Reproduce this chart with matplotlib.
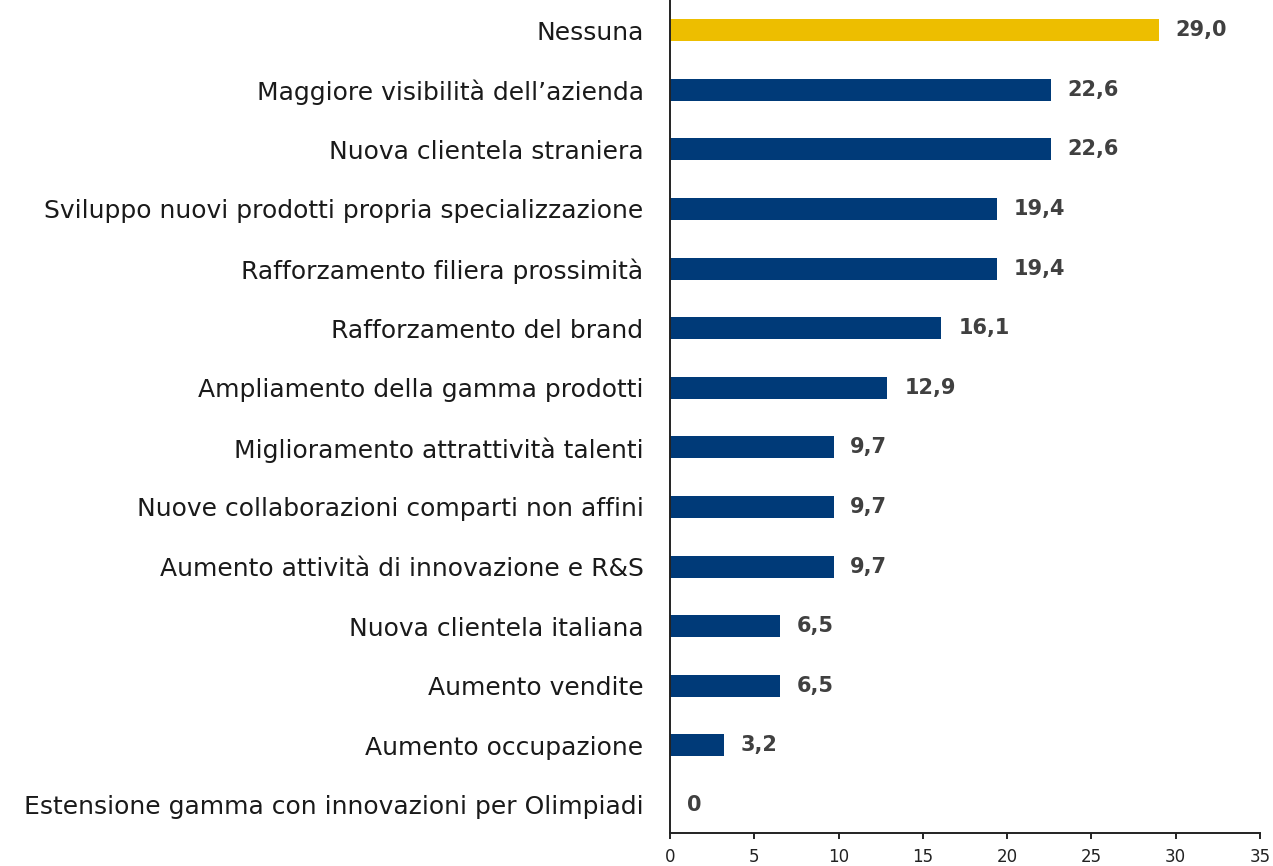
import matplotlib
matplotlib.use('Agg')
import matplotlib.pyplot as plt

# ─── Data (top to bottom) ────────────────────────────────────────────────
categories = [
    "Nessuna",
    "Maggiore visibilità dell’azienda",
    "Nuova clientela straniera",
    "Sviluppo nuovi prodotti propria specializzazione",
    "Rafforzamento filiera prossimità",
    "Rafforzamento del brand",
    "Ampliamento della gamma prodotti",
    "Miglioramento attrattività talenti",
    "Nuove collaborazioni comparti non affini",
    "Aumento attività di innovazione e R&S",
    "Nuova clientela italiana",
    "Aumento vendite",
    "Aumento occupazione",
    "Estensione gamma con innovazioni per Olimpiadi",
]
values = [29.0, 22.6, 22.6, 19.4, 19.4, 16.1, 12.9, 9.7, 9.7, 9.7, 6.5, 6.5, 3.2, 0]
value_labels = ["29,0", "22,6", "22,6", "19,4", "19,4", "16,1", "12,9",
                "9,7", "9,7", "9,7", "6,5", "6,5", "3,2", "0"]
x_ticks = [0, 5, 10, 15, 20, 25, 30, 35]

NAVY = "#003a78"
GOLD = "#edbe00"
LABEL_GREY = "#404040"

plt.rcParams['font.family'] = ['DejaVu Sans']

fig = plt.figure(figsize=(12.73, 8.66), dpi=100)
# axes top runs past the figure edge: the chart is cropped from a taller one
ax = fig.add_axes([0.5263, 0.0381, 0.4635, 0.9684])

colors = [GOLD] + [NAVY] * (len(values) - 1)
pos = list(range(len(categories)))
ax.barh(pos, values, height=0.37, color=colors, zorder=2)

for p, v, lab in zip(pos, values, value_labels):
    ax.text(v + 1.0, p, lab, va='center', ha='left', fontsize=15,
            fontweight='bold', color=LABEL_GREY)

ax.set_ylim(len(categories) - 0.53, -0.6)
ax.set_xlim(0, 35)
ax.set_yticks(pos)
ax.set_yticklabels(categories, fontsize=18, color='#1a1a1a')
ax.tick_params(axis='y', length=0, pad=19)
ax.set_xticks(x_ticks)
ax.tick_params(axis='x', direction='out', length=4, width=1.2,
               labelsize=12, labelcolor='#222222', pad=7)

for side in ('top', 'right'):
    ax.spines[side].set_visible(False)
for side in ('left', 'bottom'):
    ax.spines[side].set_color('#222222')
    ax.spines[side].set_linewidth(1.4)

fig.savefig('out.png', dpi=100, facecolor='white')
